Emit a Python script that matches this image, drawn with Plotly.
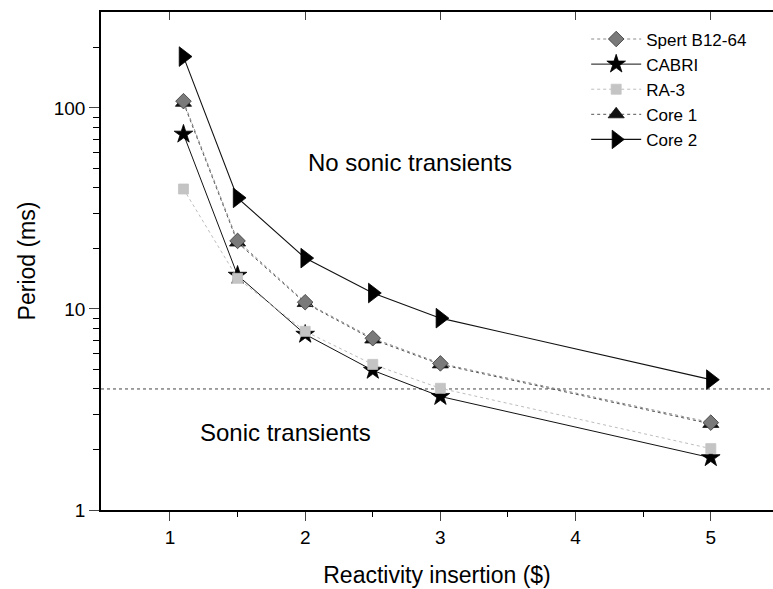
import plotly.graph_objects as go

x_vals = [1.1, 1.5, 2.0, 2.5, 3.0, 5.0]
spert = [108, 21.8, 10.8, 7.15, 5.36, 2.72]
cabri = [74, 14.7, 7.48, 4.95, 3.67, 1.82]
ra3 = [39.5, 14.2, 7.74, 5.3, 4.03, 2.02]
core1 = [106, 21.4, 10.7, 7.05, 5.3, 2.68]
core2 = [180, 35.7, 17.9, 12.0, 9.0, 4.45]
sonic_limit = 4.0

series = [
    # name, y, marker symbol, marker color, line color, dash, width, msize, rank
    ("Core 1", core1, "triangle-up", "#111111", "#555555", "dot", 1, 14, 4),
    ("Spert B12-64", spert, "diamond", "#7a7a7a", "#8a8a8a", "dot", 1, 12, 1),
    ("CABRI", cabri, "star", "#000000", "#111111", "solid", 1, 14, 2),
    ("RA-3", ra3, "square", "#c4c4c4", "#bdbdbd", "dot", 1, 10, 3),
    ("Core 2", core2, "triangle-right", "#000000", "#111111", "solid", 1.1, 17, 5),
]

fig = go.Figure()
for name, y, sym, mcol, lcol, dash, w, ms, rank in series:
    fig.add_trace(go.Scatter(
        x=x_vals, y=y, name=name, mode="lines+markers",
        line=dict(color=lcol, dash=dash, width=w),
        marker=dict(symbol=sym, color=mcol, size=ms,
                    line=dict(color="#333333" if sym == "diamond" else mcol, width=0.8)),
        legendrank=rank,
    ))

fig.add_shape(type="line", xref="paper", x0=0, x1=1, yref="y", y0=sonic_limit, y1=sonic_limit,
              line=dict(color="#444444", width=1, dash="dot"), layer="below")

fig.add_annotation(x=0.46, y=0.697, xref="paper", yref="paper", text="No sonic transients",
                   xanchor="center", yanchor="middle",
                   showarrow=False, font=dict(size=24, color="black"))
fig.add_annotation(x=0.275, y=0.155, xref="paper", yref="paper", text="Sonic transients",
                   xanchor="center", yanchor="middle",
                   showarrow=False, font=dict(size=24, color="black"))

fig.update_layout(
    width=773, height=589,
    margin=dict(l=101, r=0, t=12, b=79),
    plot_bgcolor="white", paper_bgcolor="white",
    font=dict(family="Liberation Sans, Arial, sans-serif", color="black"),
    showlegend=True,
    legend=dict(x=0.722, y=0.981, xanchor="left", yanchor="top",
                font=dict(size=17), bgcolor="rgba(0,0,0,0)", itemwidth=50,
                tracegroupgap=0),
    xaxis=dict(range=[0.49, 5.46], tickvals=[1, 2, 3, 4, 5], ticks="outside", ticklen=9,
               tickwidth=1.2, showline=True, linecolor="black", linewidth=1.5,
               showgrid=False, zeroline=False, tickfont=dict(size=19),
               minor=dict(tickvals=[1.5, 2.5, 3.5, 4.5], ticks="outside", ticklen=5,
                          tickcolor="black", showgrid=False),
               title=dict(text="Reactivity insertion ($)", font=dict(size=23), standoff=20)),
    xaxis2=dict(range=[0.49, 5.46], overlaying="x", side="top", tickvals=[1, 2, 3, 4, 5],
                ticks="inside", ticklen=8, tickwidth=1.2, showline=True, linecolor="black",
                linewidth=1.5, showticklabels=False, showgrid=False, zeroline=False),
    yaxis=dict(type="log", range=[0, 2.477], tickvals=[1, 10, 100], ticktext=["1", "10", "100"],
               ticks="outside", ticklen=10, tickwidth=1.2, showline=True, linecolor="black",
               linewidth=1.5, showgrid=False, zeroline=False, tickfont=dict(size=19),
               minor=dict(tickvals=[2, 3, 4, 5, 6, 7, 8, 9, 20, 30, 40, 50, 60, 70, 80, 90, 200],
                          ticks="outside", ticklen=6, tickcolor="black", showgrid=False),
               title=dict(text="Period (ms)", font=dict(size=23), standoff=12)),
)

fig.add_trace(go.Scatter(x=[None], y=[None], xaxis="x2", yaxis="y", showlegend=False, hoverinfo="skip"))

fig.write_html("out.html")
